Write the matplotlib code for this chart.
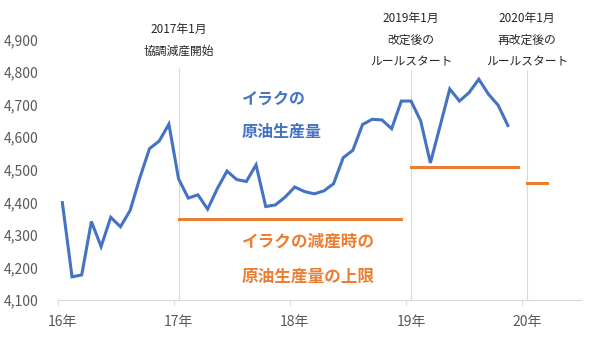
import matplotlib.pyplot as plt
import matplotlib.transforms as mtransforms
import numpy as np

plt.rcParams['font.family'] = ['Noto Sans CJK JP', 'DejaVu Sans']

# monthly crude oil production, Jan 2016 - Nov 2019 (thousand b/d)
production = [4399, 4171, 4177, 4341, 4264, 4354, 4325, 4375, 4475, 4565, 4588, 4640,
              4472, 4413, 4423, 4379, 4442, 4496, 4470, 4464, 4515, 4387, 4392, 4416,
              4447, 4433, 4426, 4435, 4457, 4537, 4560, 4639, 4655, 4653, 4626, 4711,
              4711, 4650, 4521, 4634, 4748, 4711, 4737, 4778, 4732, 4698, 4636]

# production ceilings under the cut agreements (start month index, end month index, level)
cap_start = [12, 36, 48]
cap_end = [35, 47, 50]
cap_level = [4350, 4508, 4458]

year_labels = ['16年', '17年', '18年', '19年', '20年']
n_months = 54

events = [12, 36, 48]
event_text = [['2017年1月', '協調減産開始'],
              ['2019年1月', '改定後の', 'ルールスタート'],
              ['2020年1月', '再改定後の', 'ルールスタート']]

blue = '#4472C4'
orange = '#ED7D31'

fig = plt.figure(figsize=(6, 3.37), dpi=100)
ax = fig.add_axes([57.5/600, 1 - 300/337, (580.5-57.5)/600, (300-39.5)/337])

months = np.arange(len(production))
ax.plot(months, production, color=blue, lw=2.2, solid_joinstyle='miter', zorder=3)

for s, e, lv in zip(cap_start, cap_end, cap_level):
    ax.plot([s, e], [lv, lv], color=orange, lw=2.2, zorder=3)

for m in events:
    top = 4816 if m == 12 else 4806
    ax.vlines(m, 4100, top, color='#d9d9d9', lw=0.8, zorder=1)

ax.set_xlim(-0.5, n_months - 0.5)
ax.set_ylim(4100, 4900)
ax.set_yticks(np.arange(4100, 4901, 100))
ax.set_yticklabels([f'{v:,}' for v in range(4100, 4901, 100)])

ax.set_xticks(np.arange(len(year_labels)) * 12)
ax.set_xticklabels(year_labels)
ax.set_xticks(np.arange(len(year_labels)) * 12 - 0.5, minor=True)
ax.tick_params(axis='x', which='major', length=0, pad=11, labelsize=10, colors='#595959')
ax.tick_params(axis='x', which='minor', length=4, color='#d9d9d9')
ax.tick_params(axis='y', length=0, pad=14, labelsize=10, colors='#595959')

for side in ['left', 'right', 'top']:
    ax.spines[side].set_visible(False)
ax.spines['bottom'].set_color('#d9d9d9')

trans = mtransforms.blended_transform_factory(ax.transData, fig.transFigure)

# event notes above the chart
for m, lines in zip(events, event_text):
    y0 = 29 if m == 12 else 18
    for k, t in enumerate(lines):
        ax.text(m, 1 - (y0 + k * 22) / 337, t, transform=trans, ha='center', va='center',
                fontsize=8.5, color='#262626')

ax.text(18.5, 1 - 99/337, 'イラクの', transform=trans, ha='left', va='center',
        fontsize=11.5, fontweight='bold', color=blue)
ax.text(18.5, 1 - 132/337, '原油生産量', transform=trans, ha='left', va='center',
        fontsize=11.5, fontweight='bold', color=blue)
ax.text(18.5, 1 - 242/337, 'イラクの減産時の', transform=trans, ha='left', va='center',
        fontsize=12, fontweight='bold', color=orange)
ax.text(18.5, 1 - 277/337, '原油生産量の上限', transform=trans, ha='left', va='center',
        fontsize=12, fontweight='bold', color=orange)

fig.savefig('out.png', dpi=100)
